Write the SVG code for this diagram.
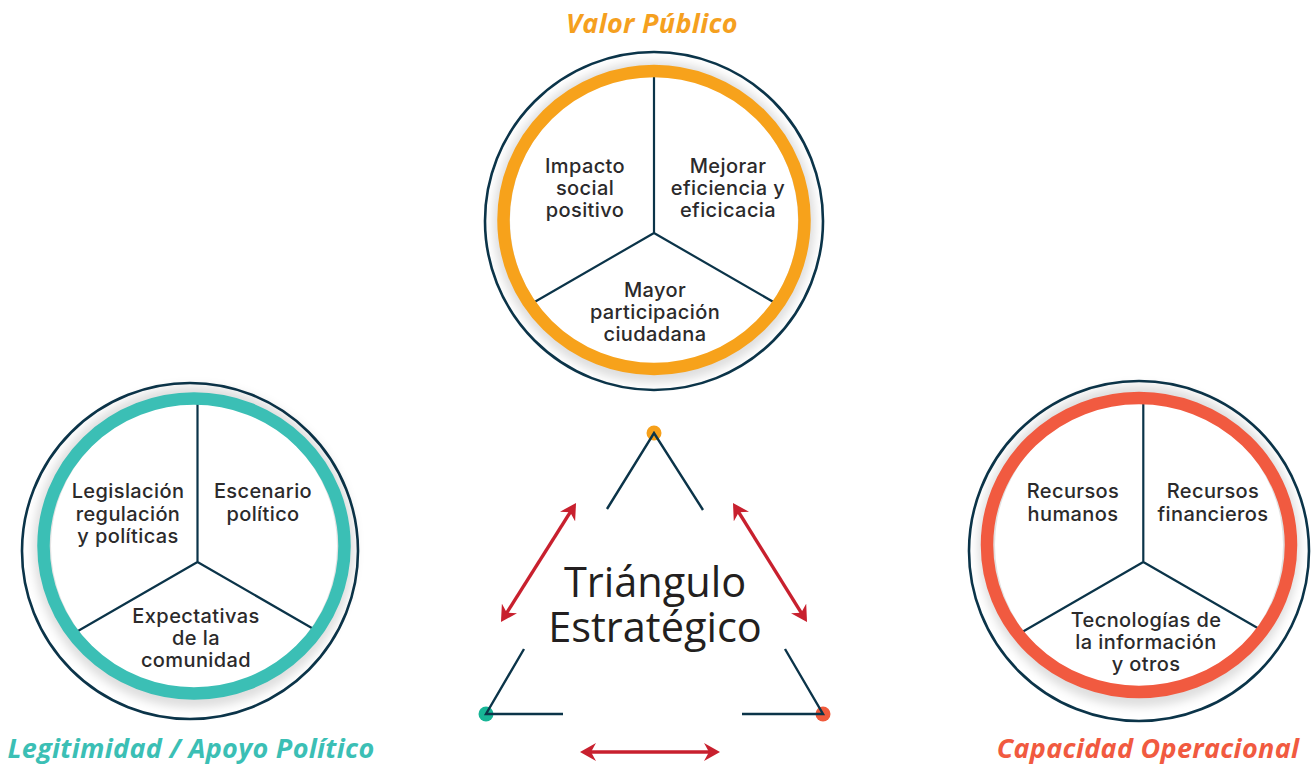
<svg xmlns="http://www.w3.org/2000/svg" width="1315" height="766" viewBox="0 0 1315 766">
<defs>
<style>
.dark{fill:none;stroke:#0b3449;stroke-width:2.6}
.div{fill:none;stroke:#0b3449;stroke-width:2.2}
.shadow{fill:none;stroke:#000;stroke-opacity:0.13;stroke-width:22}
.lbl{font-family:Inter,"Open Sans","Liberation Sans",sans-serif;font-size:20px;font-weight:500;letter-spacing:0.4px;fill:#2b2a2b;text-anchor:middle}
.title{font-family:"Open Sans","Liberation Sans",sans-serif;font-size:27px;font-weight:700;font-style:italic;letter-spacing:0.3px;text-anchor:middle}
.big{font-family:"Open Sans","Liberation Sans",sans-serif;font-size:41.5px;font-weight:400;fill:#231f20;text-anchor:middle}
.tri{fill:none;stroke:#0b3449;stroke-width:2.4}
.arr{fill:none;stroke:#c8202e;stroke-width:3.4}
</style>
<filter id="blur" x="-20%" y="-20%" width="140%" height="140%"><feGaussianBlur stdDeviation="5"/></filter>
<marker id="ah" viewBox="0 0 16 18" refX="12" refY="9" markerWidth="16" markerHeight="18" markerUnits="userSpaceOnUse" orient="auto-start-reverse">
<path d="M0,0 L16,9 L0,18 L5,9 z" fill="#c8202e"/>
</marker>
</defs>
<rect width="1315" height="766" fill="#ffffff"/>

<g id="valor-publico">
<circle cx="654" cy="221" r="169" fill="#fff" class="dark"/>
<circle cx="654" cy="222" r="150" class="shadow" filter="url(#blur)"/>
<circle cx="654" cy="220" r="144" fill="#fff"/>
<path class="div" d="M654,233 V72 M654,233 L527.6,306 M654,233 L780.4,306"/>
<ellipse cx="654" cy="220" rx="150.5" ry="149" fill="none" stroke="#f7a21b" stroke-width="12.5"/>
<text class="lbl"><tspan x="585" y="173">Impacto</tspan><tspan x="585" y="195">social</tspan><tspan x="585" y="217">positivo</tspan></text>
<text class="lbl"><tspan x="728" y="173">Mejorar</tspan><tspan x="728" y="195">eficiencia y</tspan><tspan x="728" y="217">eficicacia</tspan></text>
<text class="lbl"><tspan x="655" y="297">Mayor</tspan><tspan x="655" y="319">participación</tspan><tspan x="655" y="341">ciudadana</tspan></text>
<text class="title" x="652" y="33" fill="#f5a01f">Valor Público</text>
</g>

<g id="legitimidad">
<circle cx="190" cy="551" r="168" fill="#fff" class="dark"/>
<circle cx="194" cy="547" r="150" class="shadow" filter="url(#blur)"/>
<circle cx="194" cy="546" r="143" fill="#fff"/>
<path class="div" d="M197.5,562 V400 M197.5,562 L71,635 M197.5,562 L319.6,632.5"/>
<ellipse cx="194" cy="546" rx="150.5" ry="147.5" fill="none" stroke="#3bbfb5" stroke-width="12.5"/>
<text class="lbl"><tspan x="128" y="498">Legislación</tspan><tspan x="128" y="521">regulación</tspan><tspan x="128" y="543">y políticas</tspan></text>
<text class="lbl"><tspan x="263" y="498">Escenario</tspan><tspan x="263" y="521">político</tspan></text>
<text class="lbl"><tspan x="196" y="623">Expectativas</tspan><tspan x="196" y="645">de la</tspan><tspan x="196" y="667">comunidad</tspan></text>
<text class="title" x="191" y="758" fill="#3bbfb5">Legitimidad / Apoyo Político</text>
</g>

<g id="capacidad">
<circle cx="1139" cy="551" r="170" fill="#fff" class="dark"/>
<circle cx="1139" cy="546" r="150" class="shadow" filter="url(#blur)"/>
<circle cx="1139" cy="545" r="144" fill="#fff"/>
<path class="div" d="M1143.3,562 V400 M1143.3,562 L1017,635 M1143.3,562 L1264.5,632"/>
<ellipse cx="1139" cy="545" rx="152" ry="147" fill="none" stroke="#f15a40" stroke-width="12.5"/>
<text class="lbl"><tspan x="1073" y="498">Recursos</tspan><tspan x="1073" y="521">humanos</tspan></text>
<text class="lbl"><tspan x="1213" y="498">Recursos</tspan><tspan x="1213" y="521">financieros</tspan></text>
<text class="lbl"><tspan x="1146" y="627">Tecnologías de</tspan><tspan x="1146" y="649">la información</tspan><tspan x="1146" y="671">y otros</tspan></text>
<text class="title" x="1148" y="758" fill="#f15a40">Capacidad Operacional</text>
</g>

<g id="triangulo">
<circle cx="654" cy="433" r="7.5" fill="#f6a01a"/>
<circle cx="486" cy="714" r="7.5" fill="#17b596"/>
<circle cx="823" cy="714" r="7.5" fill="#f05a3c"/>
<path class="tri" d="M607,509 L654,433 L703,510 M524,649 L486,714 L563,714 M742,714 L823,714 L785,649"/>
<text class="big"><tspan x="655" y="597">Triángulo</tspan><tspan x="655" y="642">Estratégico</tspan></text>
</g>

<g id="connectors">
<line class="arr" x1="573.9" y1="506.4" x2="503.1" y2="618.6" marker-start="url(#ah)" marker-end="url(#ah)"/>
<line class="arr" x1="735.1" y1="506.4" x2="804.9" y2="618.6" marker-start="url(#ah)" marker-end="url(#ah)"/>
<line class="arr" x1="584" y1="752" x2="716" y2="752" marker-start="url(#ah)" marker-end="url(#ah)"/>
</g>
</svg>
